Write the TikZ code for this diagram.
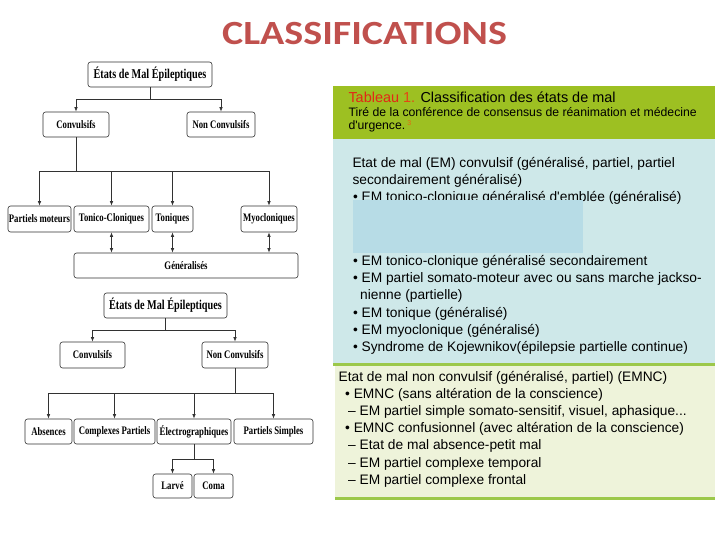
\documentclass[tikz,border=0pt]{standalone}
\usepackage{fontspec}
\usetikzlibrary{arrows.meta}
\newfontfamily\treefont{Liberation Serif}[FakeStretch=0.76]
\newfontfamily\tabfont{Liberation Sans}
\newfontfamily\titlefont{Carlito}[FakeStretch=1.18]
\definecolor{titlered}{HTML}{C0504D}
\definecolor{hdrgreen}{RGB}{157,192,34}
\definecolor{cyanbg}{RGB}{206,232,233}
\definecolor{bluebox}{RGB}{183,220,230}
\definecolor{yellowbg}{RGB}{238,243,218}
\definecolor{linegreen}{RGB}{156,200,74}
\definecolor{tabred}{RGB}{226,40,22}
\definecolor{taborange}{RGB}{228,70,20}
\definecolor{supor}{RGB}{232,100,16}
\definecolor{treeline}{RGB}{50,50,50}
\tikzset{
  tbox/.style={draw=treeline, rounded corners=2.5bp, line width=0.6bp, inner sep=0pt,
    font=\treefont\bfseries\fontsize{11.5}{13}\selectfont},
  rootbox/.style={tbox, font=\treefont\bfseries\fontsize{13.5}{15}\selectfont},
  conn/.style={draw=treeline, line width=0.7bp},
  arr/.style={conn, -{Latex[length=4.5bp,width=3.5bp]}},
  darr/.style={conn, {Latex[length=4.5bp,width=3.5bp]}-{Latex[length=4.5bp,width=3.5bp]}},
  tline/.style={anchor=base west, inner sep=0pt, font=\tabfont\fontsize{13.8}{16}\selectfont},
}
\begin{document}
\begin{tikzpicture}[x=1bp,y=-1bp]
\useasboundingbox[fill=white] (0,0) rectangle (720,540);

% Title
\node[font=\titlefont\bfseries\fontsize{34}{40}\selectfont, text=titlered, inner sep=0pt] (title) at (364.5,34) {CLASSIFICATIONS};

% ---------- Top tree ----------
\node[rootbox, minimum width=124bp, minimum height=25bp] (root1) at (150,74.5) {États de Mal Épileptiques};
\node[tbox, minimum width=66bp, minimum height=25bp] (conv1) at (76,124.5) {Convulsifs};
\node[tbox, minimum width=68bp, minimum height=25bp] (nconv1) at (221,124.5) {Non Convulsifs};
\node[tbox, minimum width=63bp, minimum height=26bp] (pm) at (39.5,219) {Partiels moteurs};
\node[tbox, minimum width=75bp, minimum height=26bp] (tc) at (111.5,219) {Tonico-Cloniques};
\node[tbox, minimum width=41bp, minimum height=26bp] (ton) at (172.5,219) {Toniques};
\node[tbox, minimum width=56bp, minimum height=26bp] (myo) at (269,219) {Myocloniques};
\node[tbox, minimum width=224bp, minimum height=25bp] (gen) at (186,265.5) {Généralisés};

\coordinate (j1) at (150,99);
\draw[conn] (root1.south) -- (j1);
\draw[arr] (j1) -| (conv1.north);
\draw[arr] (j1) -| (nconv1.north);
\coordinate (j2) at (76,171);
\draw[conn] (conv1.south) -- (j2);
\draw[arr] (j2) -| (pm.north);
\draw[arr] (j2) -| (tc.north);
\draw[arr] (j2) -| (ton.north);
\draw[arr] (j2) -| (myo.north);
\draw[darr] (tc.south) -- (tc.south |- gen.north);
\draw[darr] (ton.south) -- (ton.south |- gen.north);
\draw[darr] (myo.south) -- (myo.south |- gen.north);

% ---------- Bottom tree ----------
\node[rootbox, minimum width=123bp, minimum height=25bp] (root2) at (165.5,305.5) {États de Mal Épileptiques};
\node[tbox, minimum width=65bp, minimum height=26bp] (conv2) at (92.5,355) {Convulsifs};
\node[tbox, minimum width=66bp, minimum height=26bp] (nconv2) at (235,355) {Non Convulsifs};
\node[tbox, minimum width=47bp, minimum height=25bp] (abs) at (48.5,431.5) {Absences};
\node[tbox, minimum width=81bp, minimum height=25bp] (cp) at (114.5,431.5) {Complexes Partiels};
\node[tbox, minimum width=74bp, minimum height=25bp] (el) at (194,431.5) {Électrographiques};
\node[tbox, minimum width=79bp, minimum height=25bp] (ps) at (273.5,431.5) {Partiels Simples};
\node[tbox, minimum width=39bp, minimum height=24bp] (larve) at (172.5,486) {Larvé};
\node[tbox, minimum width=39bp, minimum height=24bp] (coma) at (213.5,486) {Coma};

\coordinate (j3) at (165.5,330);
\draw[conn] (root2.south) -- (j3);
\draw[arr] (j3) -| (conv2.north);
\draw[arr] (j3) -| (nconv2.north);
\coordinate (j4) at (235,393);
\draw[conn] (nconv2.south) -- (j4);
\draw[arr] (j4) -| (abs.north);
\draw[arr] (j4) -| (cp.north);
\draw[arr] (j4) -| (el.north);
\draw[arr] (j4) -| (ps.north);
\coordinate (j5) at (194,459);
\draw[conn] (el.south) -- (j5);
\draw[arr] (j5) -| (larve.north);
\draw[arr] (j5) -| (coma.north);

% ---------- Table ----------
\fill[hdrgreen] (333,86) rectangle (715,139);
\fill[cyanbg] (333,139) rectangle (715,363);
\fill[linegreen] (333,363) rectangle (715,366);
\fill[yellowbg] (335,366) rectangle (715,497);
\fill[linegreen] (335,497) rectangle (715,499.5);

\node[tline, font=\tabfont\fontsize{14.5}{17}\selectfont] (h1) at (348.3,102.5) {\textcolor{tabred}{Tableau}\textcolor{taborange}{~1.} Classification des états de mal};
\node[tline, font=\tabfont\fontsize{12.3}{14}\selectfont] (h2) at (348.3,116.5) {Tiré de la conférence de consensus de réanimation et médecine};
\node[tline, font=\tabfont\fontsize{12.3}{14}\selectfont] (h3) at (348.3,130) {d'urgence.\,\raisebox{4bp}{\fontsize{7}{8}\selectfont\textcolor{supor}{3}}};

\node[tline] (t1) at (352.3,168) {Etat de mal (EM) convulsif (généralisé, partiel, partiel};
\node[tline] (t2) at (352.3,185) {secondairement généralisé)};
\node[tline] (t3) at (352.8,201.5) {• EM tonico-clonique généralisé d'emblée (généralisé)};
\fill[bluebox] (353,200) rectangle (583,253);
\node[tline] (t4) at (352.8,265.5) {• EM tonico-clonique généralisé secondairement};
\node[tline] (t5) at (352.8,282.5) {• EM partiel somato-moteur avec ou sans marche jackso-};
\node[tline] (t6) at (360,299.7) {nienne (partielle)};
\node[tline] (t7) at (352.8,317) {• EM tonique (généralisé)};
\node[tline] (t8) at (352.8,334.2) {• EM myoclonique (généralisé)};
\node[tline] (t9) at (352.8,351.5) {• Syndrome de Kojewnikov(épilepsie partielle continue)};

\node[tline] (u1) at (338.5,381.5) {Etat de mal non convulsif (généralisé, partiel) (EMNC)};
\node[tline] (u2) at (345,398.6) {• EMNC (sans altération de la conscience)};
\node[tline] (u3) at (348,415.7) {– EM partiel simple somato-sensitif, visuel, aphasique...};
\node[tline] (u4) at (345,432.8) {• EMNC confusionnel (avec altération de la conscience)};
\node[tline] (u5) at (348,449.9) {– Etat de mal absence-petit mal};
\node[tline] (u6) at (348,467) {– EM partiel complexe temporal};
\node[tline] (u7) at (348,484.1) {– EM partiel complexe frontal};
\end{tikzpicture}
\end{document}
